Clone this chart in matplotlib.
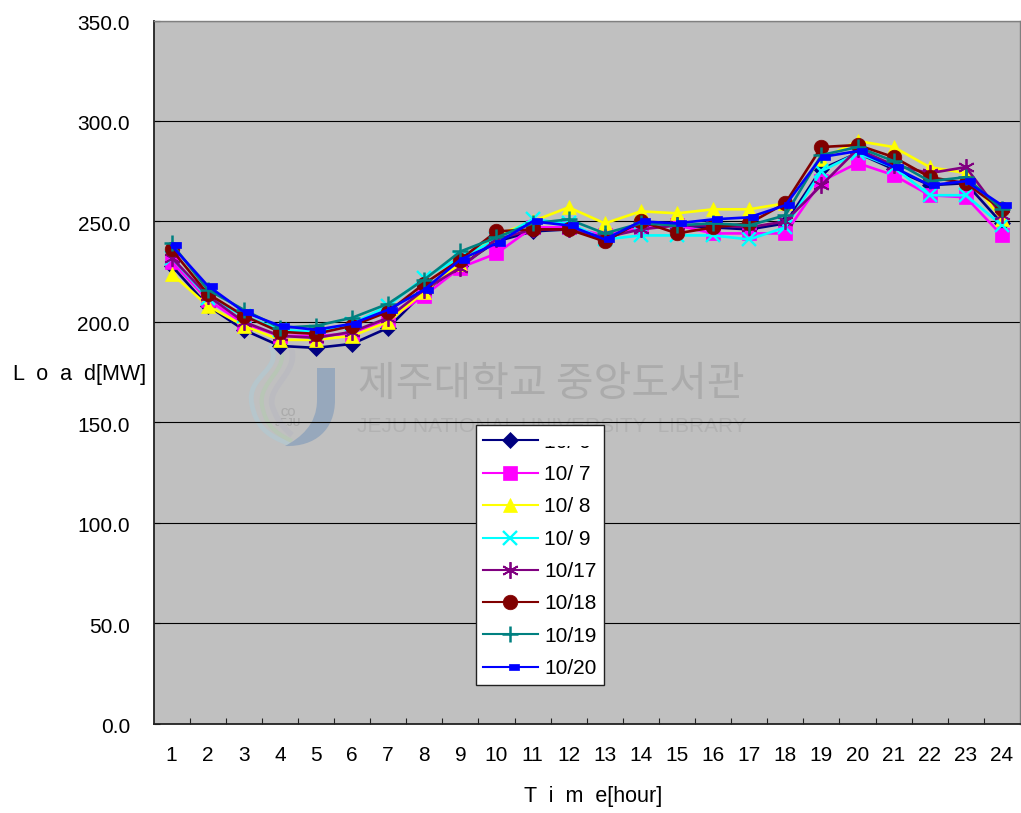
""" Carga horaria por dia (Load[MW] vs Time[hour])."""
import matplotlib
matplotlib.use("Agg")
import matplotlib.pyplot as plt
from matplotlib.path import Path
from matplotlib.patches import PathPatch, Rectangle
from matplotlib.transforms import Affine2D

plt.rcParams['font.family'] = ['Liberation Sans', 'DejaVu Sans']

hours = list(range(1, 25))
labels = ["10/ 6", "10/ 7", "10/ 8", "10/ 9", "10/17", "10/18", "10/19", "10/20"]

oct6 = [228, 208, 196, 188, 187, 189, 197, 215, 228, 240, 245, 246, 241, 248, 248, 247, 246, 249, 276, 284, 276, 268, 269, 249]
oct7 = [230, 211, 199, 193, 193, 194, 201, 213, 227, 234, 247, 247, 243, 247, 248, 244, 244, 244, 270, 279, 273, 263, 262, 243]
oct8 = [224, 208, 198, 191, 191, 193, 200, 215, 229, 243, 250, 257, 249, 255, 254, 256, 256, 259, 281, 290, 287, 277, 274, 251]
oct9 = [232, 212, 203, 196, 195, 199, 208, 222, 232, 241, 251, 249, 241, 243, 243, 243, 241, 247, 275, 284, 277, 263, 263, 248]
oct17 = [232, 213, 200, 193, 192, 195, 202, 216, 227, 241, 246, 246, 242, 246, 248, 248, 247, 250, 268, 286, 278, 274, 277, 253]
oct18 = [236, 214, 203, 195, 194, 198, 205, 219, 231, 245, 246, 246, 240, 250, 244, 247, 249, 259, 287, 288, 282, 272, 269, 256]
oct19 = [239, 216, 206, 197, 198, 202, 209, 221, 235, 242, 249, 251, 244, 249, 248, 249, 248, 253, 283, 287, 280, 270, 272, 256]
oct20 = [238, 218, 205, 198, 196, 199, 206, 216, 231, 239, 250, 248, 241, 250, 249, 251, 252, 258, 282, 285, 277, 268, 270, 258]
series = [oct6, oct7, oct8, oct9, oct17, oct18, oct19, oct20]

colors = ["#000080", "#FF00FF", "#FFFF00", "#00FFFF", "#800080", "#800000", "#008080", "#0000FF"]
# el marcador azul esta corrido a la derecha en el original
blue_mark = Path([(-1, -3), (9, -3), (9, 3), (-1, 3), (-1, -3)], closed=True)
markers = ["D", "s", "^", "x", (6, 2, 0), "o", "+", blue_mark]
sizes = [8, 10.5, 10.5, 9.5, 12, 10.5, 11, 13]
edges = [0.5, 0.5, 0.5, 1.7, 1.3, 0.5, 1.8, 0.5]

W, H = 1021, 813
fig = plt.figure(figsize=(W / 100, H / 100), dpi=100)
ax = fig.add_axes([153.5 / W, (H - 723.5) / H, (1020 - 153.5) / W, 703 / H])
ax.set_facecolor("#C0C0C0")

for vals, c, m, s, e, lab in zip(series, colors, markers, sizes, edges, labels):
    ax.plot(hours, vals, color=c, marker=m, markersize=s, lw=1.9, mew=e, mec=c, label=lab, clip_on=False, zorder=3)

ax.set_xlim(0.5, 24.5)
ax.set_ylim(0, 350)
ax.set_yticks(range(0, 351, 50))
ax.set_yticklabels([f"{v:.1f}" for v in range(0, 351, 50)], fontsize=15)
ax.set_xticks(hours)
ax.set_xticklabels([str(h) for h in hours], fontsize=15)
ax.set_xticks([h + 0.5 for h in hours[:-1]], minor=True)
ax.tick_params(axis="x", which="major", length=0, pad=16)
ax.tick_params(axis="x", which="minor", direction="in", length=4.5, width=0.8, color="#222222")
ax.tick_params(axis="y", direction="in", length=4.5, width=0.8, pad=17)
ax.grid(axis="y", color="black", lw=0.8)
ax.set_axisbelow(True)
for t in ax.get_yticklabels():
    t.set_transform(t.get_transform() + Affine2D().translate(0, -2))
for name in ("left", "bottom"):
    ax.spines[name].set_linewidth(1.3)
    ax.spines[name].set_color("#222222")
for name in ("top", "right"):
    ax.spines[name].set_linewidth(1.0)
    ax.spines[name].set_color("#808080")

fig.text(13 / W, 1 - 374 / H, "L  o  a  d[MW]", fontsize=15.5, va="center", ha="left")
fig.text(593 / W, 1 - 796 / H, "T  i  m  e[hour]", fontsize=15.5, va="center", ha="center")

# marca de agua (coordenadas en pixeles de la imagen), por debajo de la rejilla
px = Affine2D().scale(1, -1).translate(0, H)
ax.text(358, 384, "제주대학교 중앙도서관", fontsize=29.5, color="#ABABAB", va="center", ha="left",
        family=["Noto Sans CJK KR", "DejaVu Sans"], fontweight="medium", transform=px, zorder=0.4, clip_on=False)
ax.text(357, 426, "JEJU NATIONAL UNIVERSITY  LIBRARY", fontsize=15, color="#B2B2B2", va="center", ha="left",
        transform=px, zorder=0.4)
ax.text(288, 418, "CO\nJEJU", fontsize=7.5, color="#ABABAB", va="center", ha="center", linespacing=1.1,
        fontweight="bold", transform=px, zorder=0.4)


def swirl(pts, color, width):
    codes = [Path.MOVETO] + [Path.CURVE4] * (len(pts) - 1)
    ax.add_artist(PathPatch(Path(pts, codes), fc="none", ec=color, lw=width, transform=px, zorder=0.4))


swirl([(270, 345), (285, 370), (245, 375), (252, 405), (256, 425), (265, 435), (290, 444)], "#B6C6CC", 3.5)
swirl([(279, 345), (292, 370), (258, 380), (262, 405), (265, 422), (272, 432), (292, 441)], "#B8C6B6", 3)
swirl([(290, 345), (302, 370), (268, 385), (272, 405), (275, 415), (280, 425), (292, 435)], "#BBBBC0", 4)

j_pts = [(317, 368), (335, 368), (335, 368), (335, 400), (335, 430), (315, 447), (285, 446),
         (300, 438), (317, 425), (317, 400), (317, 400), (317, 368)]
j_codes = [Path.MOVETO, Path.LINETO, Path.LINETO, Path.LINETO, Path.CURVE4, Path.CURVE4, Path.CURVE4,
           Path.CURVE4, Path.CURVE4, Path.CURVE4, Path.LINETO, Path.CLOSEPOLY]
ax.add_artist(PathPatch(Path(j_pts, j_codes), fc="#97A8BC", ec="none", transform=px, zorder=0.4))

handles, names = ax.get_legend_handles_labels()
leg = fig.legend(handles, names, loc="upper left", bbox_to_anchor=(475.5 / W, 1 - 425.5 / H), fontsize=15, fancybox=False,
                 framealpha=1, edgecolor="#222222", borderaxespad=0, borderpad=0.35, labelspacing=0.64,
                 handlelength=2.64, handletextpad=0.3)
leg.get_frame().set_linewidth(1.0)
leg.set_zorder(6)
for h in leg.get_lines():
    h.set_linewidth(1.5)
# en el original la primera etiqueta queda casi toda tapada
clip = Rectangle((470, H - 452), 140, 6.5, transform=None)
leg.get_texts()[0].set_clip_path(clip)
leg.get_texts()[0].set_clip_on(True)

fig.savefig("out.png", dpi=100)
